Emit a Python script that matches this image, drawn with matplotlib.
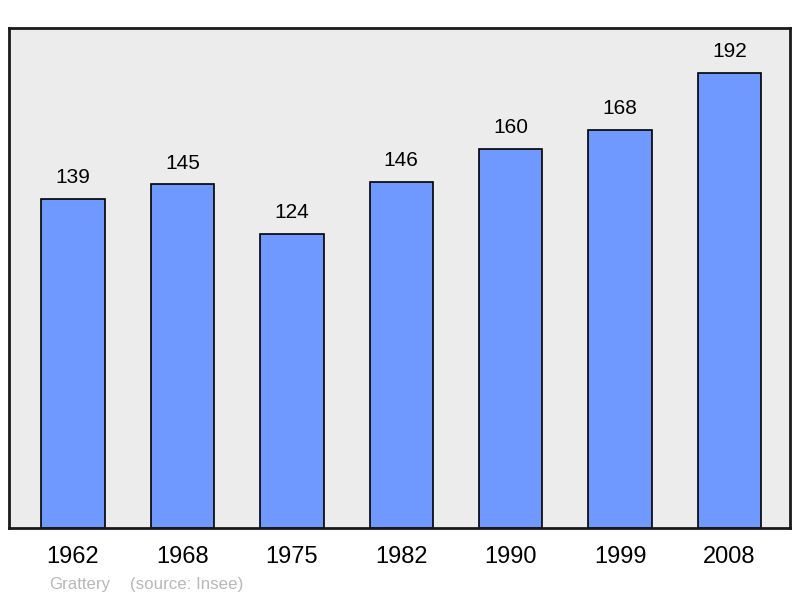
import matplotlib
matplotlib.use("Agg")
import matplotlib.pyplot as plt

years = ["1962", "1968", "1975", "1982", "1990", "1999", "2008"]
population = [139, 145, 124, 146, 160, 168, 192]

plt.rcParams['font.family'] = ['Liberation Sans', 'DejaVu Sans']

fig = plt.figure(figsize=(8, 5.98), dpi=100)
ax = fig.add_axes([9 / 800, 1 - 528 / 598, 781 / 800, 500 / 598])
ax.set_facecolor('#ececec')

x = range(len(years))
bars = ax.bar(x, population, width=0.58, color='#7099ff', edgecolor='black', linewidth=1.2)
for xi, v in zip(x, population):
    ax.text(xi, v + 9.0, str(v), ha='center', va='center', fontsize=15)

ax.set_xlim(-0.585, 6.553)
ax.set_ylim(0, 211)
ax.set_yticks([])
ax.set_xticks(list(x))
ax.set_xticklabels(years, fontsize=17)
ax.tick_params(axis='x', length=0, pad=13)
for s in ax.spines.values():
    s.set_linewidth(2)
    s.set_color('#1a1a1a')

fig.text(49 / 800, 1 - 584 / 598, "Grattery", color='#b8b8b8', fontsize=12.2, va='center')
fig.text(130 / 800, 1 - 584 / 598, "(source: Insee)", color='#b8b8b8', fontsize=12.2, va='center')

fig.savefig("out.png", dpi=100)
